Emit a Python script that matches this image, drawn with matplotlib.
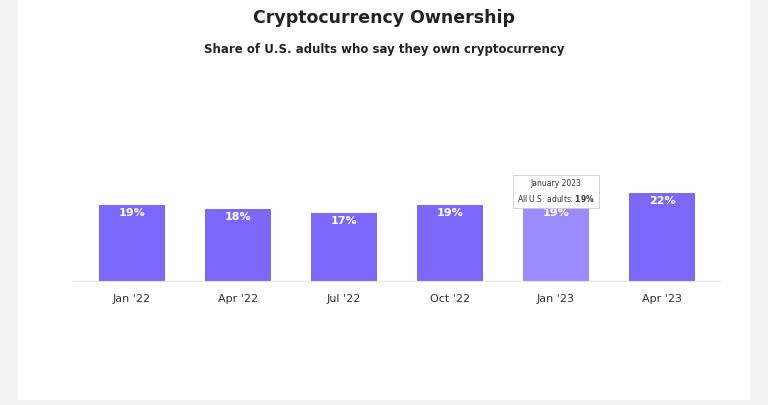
import matplotlib
matplotlib.use("Agg")
import matplotlib.pyplot as plt
from matplotlib.patches import Rectangle

categories = ["Jan '22", "Apr '22", "Jul '22", "Oct '22", "Jan '23", "Apr '23"]
values = [19, 18, 17, 19, 19, 22]
colors = ["#7B68FB", "#7B68FB", "#7B68FB", "#7B68FB", "#9B8AFC", "#7B68FB"]

W, H = 768, 405
fig = plt.figure(figsize=(W/100, H/100), dpi=100)
fig.patch.set_facecolor("#F2F2F2")
fig.add_artist(Rectangle((18/W, 5/H), (750-18)/W, 1-5/H, transform=fig.transFigure,
                         facecolor="white", edgecolor="none", zorder=0))

ax = fig.add_axes([73/W, 1-281/H, 647/W, 100/H])
ax.set_facecolor("none")
x = list(range(len(categories)))
ax.bar(x, values, width=0.63, color=colors, zorder=2)
ax.set_xlim(-0.557, 5.547)
ax.set_ylim(0, 25)
for i, v in enumerate(values):
    ax.text(i, v - 0.8, f"{v}%", ha="center", va="top", color="white",
            fontsize=8, fontweight="bold", zorder=3)
ax.set_xticks(x)
ax.set_xticklabels(categories, fontsize=8, color="#333333")
ax.tick_params(axis="x", length=0, pad=9)
ax.set_yticks([])
for s in ["top", "right", "left"]:
    ax.spines[s].set_visible(False)
ax.spines["bottom"].set_color("#E6E6E6")

# tooltip
ax.annotate("January 2023\nAll U.S. adults: $\\bf{19\\%}$", xy=(4, 19.2), xytext=(4, 22.3),
            ha="center", va="center", fontsize=5.5, color="#333333", linespacing=1.6,
            bbox=dict(boxstyle="square,pad=0.5", fc="white", ec="#CCCCCC", lw=0.6),
            zorder=5, annotation_clip=False)

fig.text(0.5, 1-18/H, "Cryptocurrency Ownership", ha="center", va="center",
         fontsize=12.5, fontweight="bold", color="#222222")
fig.text(0.5, 1-49/H, "Share of U.S. adults who say they own cryptocurrency", ha="center",
         va="center", fontsize=8.5, fontweight="bold", color="#222222")

fig.savefig("out.png", dpi=100, facecolor=fig.get_facecolor())
